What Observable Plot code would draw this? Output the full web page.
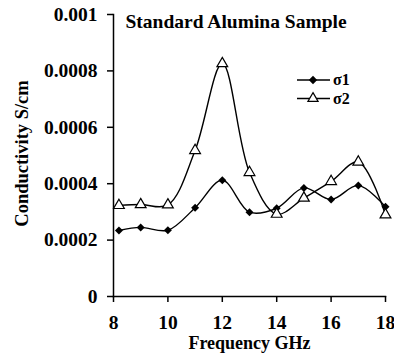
<!DOCTYPE html>
<html>
<head>
<meta charset="utf-8">
<script src="https://cdn.jsdelivr.net/npm/d3@7"></script>
<script src="https://cdn.jsdelivr.net/npm/@observablehq/plot@0.6"></script>
<style>
  html, body { margin: 0; padding: 0; background: #fff; }
  #wrap { position: relative; width: 394px; height: 353px; overflow: hidden; }
  #legend { position: absolute; left: 0; top: 0; }
  svg text { font-family: "Liberation Serif", "DejaVu Serif", "Times New Roman", serif !important; }
</style>
</head>
<body>
<div id="wrap"></div>
<script>
const title = "Standard Alumina Sample";
const xLabel = "Frequency GHz";
const yLabel = "Conductivity S/cm";
const freq = [8.2, 9, 10, 11, 12, 13, 14, 15, 16, 17, 18];
const sigma1 = [0.000234, 0.000245, 0.000235, 0.000315, 0.000412, 0.000299, 0.000313, 0.000385, 0.000344, 0.000394, 0.000318];
const sigma2 = [0.000323, 0.000326, 0.000325, 0.000518, 0.000826, 0.000440, 0.000292, 0.000349, 0.000408, 0.000477, 0.000290];
const seriesNames = ["σ1", "σ2"];
const xTicks = [8, 10, 12, 14, 16, 18];
const yTicks = [0, 0.0002, 0.0004, 0.0006, 0.0008, 0.001];
const yTickLabels = ["0", "0.0002", "0.0004", "0.0006", "0.0008", "0.001"];

const font = "\"Liberation Serif\", \"DejaVu Serif\", \"Times New Roman\", serif";
const fs = 19.5;
const yLabelMap = new Map(yTicks.map((t, i) => [t, yTickLabels[i]]));

const d1 = freq.map((f, i) => ({f, v: sigma1[i]}));
const d2 = freq.map((f, i) => ({f, v: sigma2[i]}));

const chart = Plot.plot({
  width: 394,
  height: 353,
  marginLeft: 113,
  marginRight: 9,
  marginTop: 14,
  marginBottom: 57,
  style: {fontFamily: font, fontSize: fs + "px", fontWeight: "bold", color: "#000", background: "#fff"},
  x: {domain: [8, 18]},
  y: {domain: [0, 0.001]},
  marks: [
    Plot.frame({anchor: "left", stroke: "#000", strokeWidth: 1.5}),
    Plot.frame({anchor: "bottom", stroke: "#000", strokeWidth: 1.5}),
    Plot.axisX({ticks: xTicks, tickSize: 6, tickPadding: 13, tickFormat: d => String(d), label: null, fontSize: fs, strokeWidth: 1.5}),
    Plot.axisY({ticks: yTicks, tickSize: 6, tickPadding: 10, tickFormat: d => yLabelMap.get(d), label: null, fontSize: fs, strokeWidth: 1.5}),
    Plot.line(d1, {x: "f", y: "v", curve: "catmull-rom", stroke: "#000", strokeWidth: 1.4}),
    Plot.line(d2, {x: "f", y: "v", curve: "catmull-rom", stroke: "#000", strokeWidth: 1.4}),
    Plot.dot(d1, {x: "f", y: "v", symbol: "diamond2", r: 3.6, fill: "#000", stroke: "none"}),
    Plot.dot(d2, {x: "f", y: "v", symbol: "triangle", r: 4, fill: "#fff", stroke: "#000", strokeWidth: 1.2}),
    Plot.text([title], {frameAnchor: "top-left", textAnchor: "start", lineAnchor: "middle", dx: 12, dy: 7, fontSize: fs, fontWeight: "bold", fill: "#000"}),
    Plot.text([yLabel], {frameAnchor: "left", rotate: -90, textAnchor: "middle", lineAnchor: "middle", dx: -91, dy: -2, fontSize: 18.5, fontWeight: "bold", fill: "#000"}),
    Plot.text([xLabel], {frameAnchor: "bottom", textAnchor: "middle", lineAnchor: "bottom", dy: 52, fontSize: 18, fontWeight: "bold", fill: "#000"})
  ]
});
document.getElementById("wrap").appendChild(chart);

// legend
const leg = d3.select("#wrap").append("svg").attr("id", "legend")
  .attr("width", 394).attr("height", 353);
const legY = [80, 98.5];
seriesNames.forEach((name, i) => {
  const g = leg.append("g").attr("transform", `translate(0,${legY[i]})`);
  g.append("line").attr("x1", 297).attr("x2", 330).attr("y1", 0).attr("y2", 0)
    .attr("stroke", "#000").attr("stroke-width", 1.4);
  const sym = i === 0
    ? d3.symbol(d3.symbolDiamond2, 45)()
    : d3.symbol(d3.symbolTriangle, 45)();
  g.append("path").attr("d", sym).attr("transform", "translate(313,0)")
    .attr("fill", i === 0 ? "#000" : "#fff").attr("stroke", i === 0 ? "none" : "#000").attr("stroke-width", 1.2);
  g.append("text").attr("x", 333).attr("y", 0).attr("dy", "0.34em")
    .attr("font-family", font).attr("font-weight", "bold").attr("font-size", 16)
    .attr("fill", "#000").text(name);
});
</script>
</body>
</html>
